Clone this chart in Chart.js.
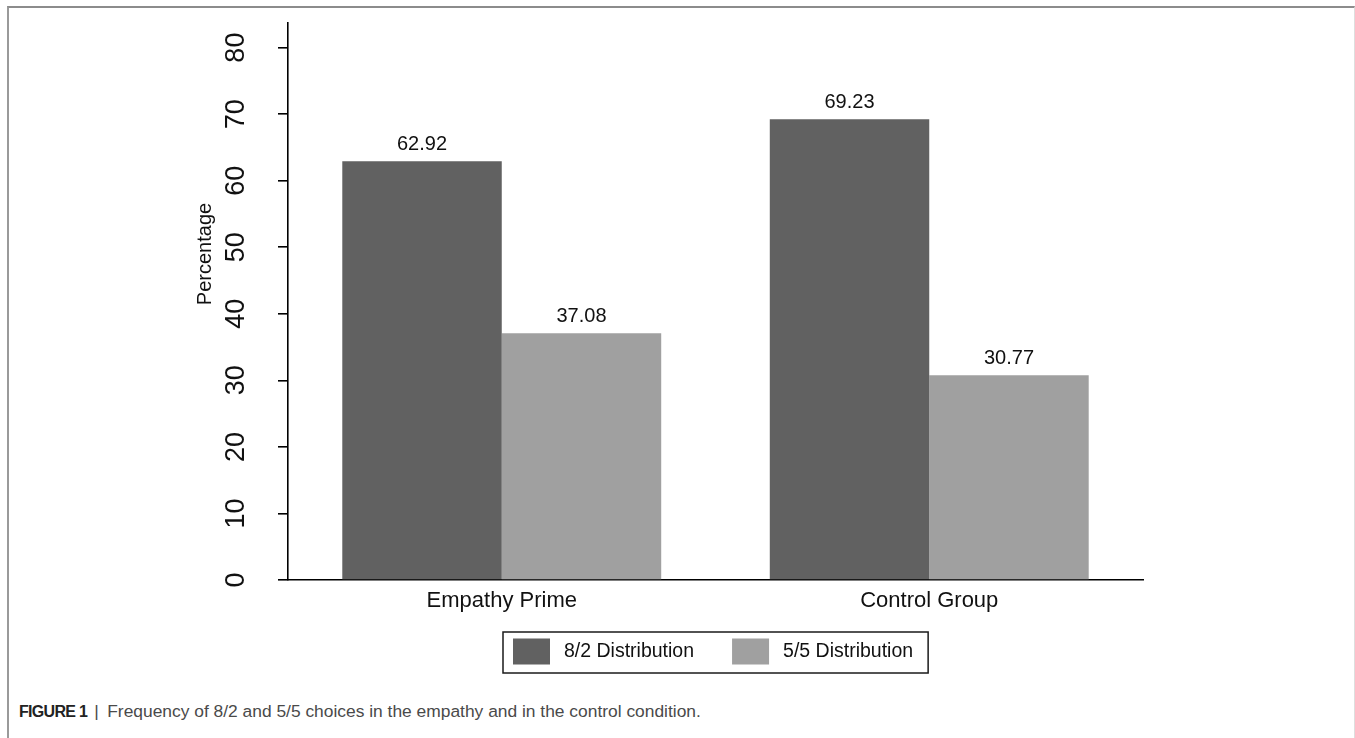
<!DOCTYPE html>
<html>
<head>
<meta charset="utf-8">
<script src="https://cdn.jsdelivr.net/npm/chart.js@4/dist/chart.umd.min.js"></script>
<style>
  html, body { margin: 0; padding: 0; background: #fff; }
  body { width: 1355px; height: 738px; position: relative; overflow: hidden; }
  #frame {
    position: absolute; left: 7px; top: 6px; width: 1345px; height: 760px;
    border-top: 2px solid #8c8c8c; border-left: 2px solid #9a9a9a; border-right: 1px solid #dedede;
  }
  #chart { position: absolute; left: 0; top: 0; }
  #caption {
    position: absolute; left: 19px; top: 701px;
    font-family: "Liberation Sans", Arial, Helvetica, sans-serif;
    font-size: 17.4px; color: #4a4a4a; white-space: nowrap;
  }
  #caption b { color: #222; font-size: 16px; letter-spacing: -0.7px; }
  #caption .sep { margin: 0 8.5px 0 7px; }
</style>
</head>
<body>
<div id="frame"></div>
<canvas id="chart" width="1355" height="690"></canvas>
<div id="caption"><b>FIGURE 1</b><span class="sep">|</span>Frequency of 8/2 and 5/5 choices in the empathy and in the control condition.</div>
<script>
// Groups on the x axis
const categories = ['Empathy Prime', 'Control Group'];
// Share of each choice (%) per group
const dist82 = [62.92, 69.23];
const dist55 = [37.08, 30.77];
const seriesLabels = ['8/2 Distribution', '5/5 Distribution'];
const seriesColors = ['#616161', '#a0a0a0'];
// Y axis tick values
const yTicks = [0, 10, 20, 30, 40, 50, 60, 70, 80];
const yTitle = 'Percentage';

const FONT = '"Liberation Sans", Arial, Helvetica, sans-serif';

// Numbers printed above each bar
const valueLabels = {
  id: 'valueLabels',
  afterDatasetsDraw(chart) {
    const ctx = chart.ctx;
    ctx.save();
    ctx.font = '20px ' + FONT;
    ctx.fillStyle = '#111';
    ctx.textAlign = 'center';
    ctx.textBaseline = 'alphabetic';
    chart.data.datasets.forEach((ds, i) => {
      chart.getDatasetMeta(i).data.forEach((bar, j) => {
        ctx.fillText(ds.data[j].toFixed(2), bar.x, bar.y - 11);
      });
    });
    ctx.restore();
  }
};

// Rotated y axis title
const yAxisTitle = {
  id: 'yAxisTitle',
  afterDraw(chart) {
    const ctx = chart.ctx;
    const area = chart.chartArea;
    ctx.save();
    ctx.translate(area.left - 83, 254);
    ctx.rotate(-Math.PI / 2);
    ctx.font = '20px ' + FONT;
    ctx.fillStyle = '#111';
    ctx.textAlign = 'center';
    ctx.textBaseline = 'middle';
    ctx.fillText(yTitle, 0, 0);
    ctx.restore();
  }
};

// Boxed legend centred under the plot region
const boxedLegend = {
  id: 'boxedLegend',
  afterDraw(chart) {
    const ctx = chart.ctx;
    const area = chart.chartArea;
    const padL = 10, padR = 15, sw = 37, sh = 26, gap = 14, itemGap = 38;
    ctx.save();
    ctx.font = '19.5px ' + FONT;
    const items = chart.data.datasets.map(ds => ({
      label: ds.label, color: ds.backgroundColor, w: ctx.measureText(ds.label).width
    }));
    let total = padL + padR;
    items.forEach((it, k) => { total += sw + gap + it.w + (k ? itemGap : 0); });
    const boxTop = 632, boxH = 41;
    const left = Math.round((area.left + area.right) / 2 - total / 2);
    ctx.strokeStyle = '#1a1a1a';
    ctx.lineWidth = 1.5;
    ctx.strokeRect(left, boxTop, total, boxH);
    let x = left + padL;
    const cy = boxTop + boxH / 2 - 1;
    items.forEach((it, k) => {
      if (k) x += itemGap;
      ctx.fillStyle = it.color;
      ctx.fillRect(x, cy - sh / 2, sw, sh);
      x += sw + gap;
      ctx.fillStyle = '#111';
      ctx.textAlign = 'left';
      ctx.textBaseline = 'middle';
      ctx.fillText(it.label, x, cy);
      x += it.w;
    });
    ctx.restore();
  }
};

new Chart(document.getElementById('chart'), {
  type: 'bar',
  data: {
    labels: categories,
    datasets: [
      { label: seriesLabels[0], data: dist82, backgroundColor: seriesColors[0] },
      { label: seriesLabels[1], data: dist55, backgroundColor: seriesColors[1] }
    ]
  },
  options: {
    responsive: false,
    animation: false,
    devicePixelRatio: 1,
    layout: { padding: { left: 0, top: 23, right: 212, bottom: 65 } },
    datasets: { bar: { barPercentage: 1, categoryPercentage: 0.746, borderWidth: 0 } },
    plugins: { legend: { display: false }, tooltip: { enabled: false } },
    scales: {
      x: {
        grid: { display: false, drawTicks: false },
        border: { display: true, color: '#000', width: 1.6 },
        ticks: { color: '#111', font: { family: FONT, size: 22 }, padding: 8 },
        afterFit(scale) { scale.height = 45; scale.paddingLeft = 0; scale.paddingRight = 0; }
      },
      y: {
        min: 0,
        max: 83.7,
        afterBuildTicks(scale) { scale.ticks = yTicks.map(v => ({ value: v })); },
        grid: { drawOnChartArea: false, drawTicks: true, tickLength: 10, color: '#000', lineWidth: 1.6 },
        border: { display: true, color: '#000', width: 1.6 },
        ticks: {
          color: '#111', font: { family: FONT, size: 27 },
          minRotation: 90, maxRotation: 90, crossAlign: 'center', padding: 26,
          callback: v => String(v)
        },
        afterFit(scale) { scale.width = 288; scale.paddingTop = 0; scale.paddingBottom = 0; }
      }
    }
  },
  plugins: [valueLabels, yAxisTitle, boxedLegend]
});
</script>
</body>
</html>
